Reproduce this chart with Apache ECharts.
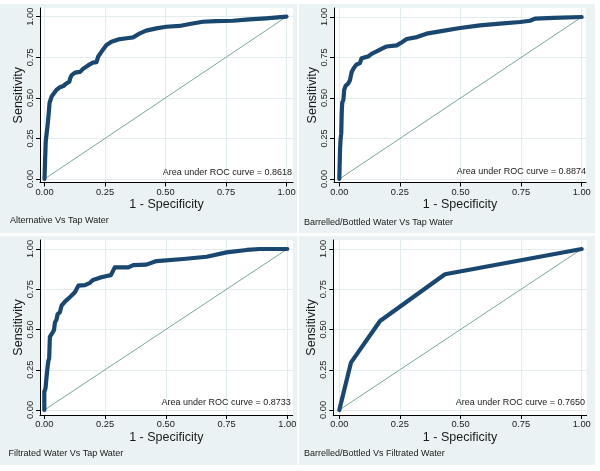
<!DOCTYPE html>
<html><head><meta charset="utf-8">
<script src="https://cdn.jsdelivr.net/npm/echarts@6/dist/echarts.min.js"></script>
<style>html,body{margin:0;padding:0;background:#fff}#c{width:600px;height:471px}</style>
</head><body><div id="c"></div>
<script>
// ---- data ----
const panelTitles = ['Alternative Vs Tap Water','Barrelled/Bottled Water Vs Tap Water','Filtrated Water Vs Tap Water','Barrelled/Bottled Vs Filtrated Water'];
const aucLabels = ['Area under ROC curve = 0.8618','Area under ROC curve = 0.8874','Area under ROC curve = 0.8733','Area under ROC curve = 0.7650'];
const tickValues = [0, 0.25, 0.5, 0.75, 1];
const tickLabels = ['0.00','0.25','0.50','0.75','1.00'];
const diagonal = [[0,0],[1,1]];
const roc1 = [[0,0],[0.003,0.14],[0.005,0.23],[0.008,0.24],[0.012,0.32],[0.016,0.38],[0.021,0.47],[0.026,0.48],[0.03,0.51],[0.04,0.53],[0.05,0.55],[0.064,0.565],[0.078,0.573],[0.092,0.59],[0.103,0.60],[0.106,0.62],[0.112,0.64],[0.126,0.655],[0.147,0.66],[0.16,0.68],[0.18,0.70],[0.2,0.717],[0.215,0.72],[0.222,0.755],[0.236,0.785],[0.256,0.825],[0.277,0.846],[0.305,0.86],[0.34,0.867],[0.366,0.873],[0.394,0.897],[0.42,0.914],[0.462,0.928],[0.503,0.938],[0.558,0.943],[0.6,0.955],[0.654,0.969],[0.709,0.973],[0.778,0.975],[0.846,0.983],[0.915,0.99],[1,1]];
const roc2 = [[0,0],[0.003,0.18],[0.005,0.24],[0.008,0.28],[0.01,0.41],[0.012,0.47],[0.017,0.49],[0.02,0.55],[0.026,0.575],[0.037,0.59],[0.044,0.61],[0.051,0.66],[0.06,0.685],[0.07,0.705],[0.085,0.715],[0.092,0.745],[0.1,0.753],[0.12,0.757],[0.133,0.773],[0.154,0.788],[0.18,0.808],[0.195,0.818],[0.237,0.825],[0.257,0.843],[0.278,0.864],[0.32,0.876],[0.36,0.897],[0.415,0.911],[0.498,0.932],[0.58,0.948],[0.663,0.959],[0.746,0.969],[0.787,0.977],[0.807,0.99],[0.883,0.994],[1,1]];
const roc3 = [[0,0],[0,0.114],[0.005,0.135],[0.01,0.217],[0.016,0.3],[0.02,0.32],[0.023,0.455],[0.03,0.47],[0.04,0.497],[0.044,0.545],[0.05,0.56],[0.055,0.596],[0.064,0.607],[0.071,0.648],[0.085,0.673],[0.106,0.702],[0.126,0.731],[0.14,0.772],[0.167,0.776],[0.188,0.79],[0.2,0.807],[0.229,0.822],[0.257,0.832],[0.274,0.838],[0.29,0.886],[0.346,0.886],[0.366,0.9],[0.42,0.903],[0.462,0.925],[0.572,0.938],[0.668,0.952],[0.75,0.979],[0.833,0.994],[0.888,1],[1,1]];
const roc4 = [[0,0],[0.048,0.294],[0.168,0.553],[0.436,0.843],[1,1]];
const rocs = [roc1, roc2, roc3, roc4];

// ---- layout (pixels) ----
const layouts = [
  {bg:[0,4,297,229], box:[40,8,293,182.5], x0:44.5, x1:286.5, y0:179, y1:16.7, auc:[292,172.7], sub:[10,221]},
  {bg:[299,4,296,229], box:[334,8,586,182.5], x0:339.3, x1:581.7, y0:179, y1:17, auc:[586,171.7], sub:[304,222.5]},
  {bg:[0,236,297.5,229], box:[40,240,292.7,415], x0:44.3, x1:287.3, y0:410, y1:249, auc:[290.7,402.7], sub:[8.5,453.3]},
  {bg:[299,236,296,229], box:[333.3,240,586.7,415], x0:339.3, x1:581.7, y0:410, y1:249, auc:[585,402.7], sub:[304,453.3]}
];
const FONT = '"Liberation Sans", Arial, sans-serif';
const BG = '#eaf2f3', NAVY = '#1a476f', DIAG = '#78a89c', GRIDC = '#e3edef', TXT = '#1a1a1a';

const grids = [], xAxes = [], yAxes = [], series = [], graphics = [];
layouts.forEach((L, i) => {
  graphics.push({type:'rect', silent:true, z:-10, shape:{x:L.bg[0], y:L.bg[1], width:L.bg[2], height:L.bg[3]}, style:{fill:BG}});
  const [l,t,r,b] = L.box;
  grids.push({left:l, top:t, width:r-l, height:b-t, show:true, backgroundColor:'#fff', borderWidth:0, containLabel:false});
  const sx = L.x1 - L.x0, sy = L.y0 - L.y1;
  const axisCommon = {
    axisLine:{show:true, onZero:false, lineStyle:{color:'#000', width:1}},
    axisTick:{show:true, length:4, inside:false, customValues:tickValues, lineStyle:{color:'#000', width:1}},
    splitLine:{show:true, lineStyle:{color:GRIDC, width:1}},
    nameLocation:'middle',
    nameTextStyle:{fontFamily:FONT, fontSize:12.5, color:TXT}
  };
  xAxes.push(Object.assign({}, axisCommon, {
    type:'value', gridIndex:i, min:-(L.x0-l)/sx, max:1+(r-L.x1)/sx,
    name:'1 - Specificity', nameGap:16,
    axisLabel:{customValues:tickValues, margin:5, fontFamily:FONT, fontSize:9.3, color:TXT, formatter:v=>tickLabels[tickValues.indexOf(Math.round(v*100)/100)]}
  }));
  yAxes.push(Object.assign({}, axisCommon, {
    type:'value', gridIndex:i, min:-(b-L.y0)/sy, max:1+(L.y1-t)/sy,
    name:'Sensitivity', nameGap:12, nameRotate:90,
    axisLabel:{customValues:tickValues, rotate:90, margin:5, fontFamily:FONT, fontSize:9.3, color:TXT, formatter:v=>tickLabels[tickValues.indexOf(Math.round(v*100)/100)]}
  }));
  series.push({type:'line', xAxisIndex:i, yAxisIndex:i, data:diagonal, symbol:'none', silent:true, lineStyle:{color:DIAG, width:1}, z:2});
  series.push({type:'line', xAxisIndex:i, yAxisIndex:i, data:rocs[i], symbol:'none', silent:true, lineStyle:{color:NAVY, width:4.2, cap:'round', join:'round'}, z:3});
  graphics.push({type:'text', silent:true, z:10, style:{x:L.auc[0], y:L.auc[1], text:aucLabels[i], align:'right', verticalAlign:'middle', font:'9px '+FONT, fill:TXT}});
  graphics.push({type:'text', silent:true, z:10, style:{x:L.sub[0], y:L.sub[1], text:panelTitles[i], align:'left', verticalAlign:'middle', font:'9px '+FONT, fill:TXT}});
});

const chart = echarts.init(document.getElementById('c'), null, {renderer:'canvas'});
chart.setOption({animation:false, backgroundColor:'#fff', grid:grids, xAxis:xAxes, yAxis:yAxes, series:series, graphic:graphics});
</script></body></html>
